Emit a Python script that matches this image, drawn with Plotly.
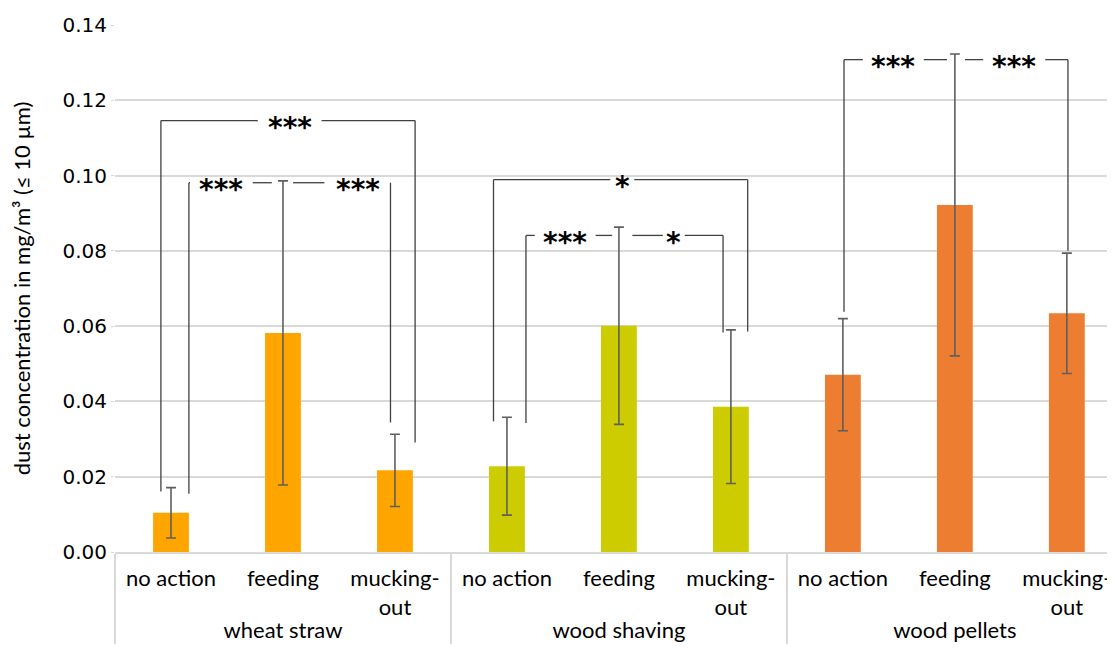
import plotly.graph_objects as go

# ---------------- data ----------------
groups = ["wheat straw", "wood shaving", "wood pellets"]
actions = ["no action", "feeding", "mucking-<br>out"]

wheat_mean = [0.0104, 0.0582, 0.0217]
wheat_err = [0.0067, 0.0404, 0.0096]
shaving_mean = [0.0228, 0.0601, 0.0386]
shaving_err = [0.0130, 0.0262, 0.0204]
pellets_mean = [0.0471, 0.0922, 0.0634]
pellets_err = [0.0149, 0.0401, 0.0160]

colors = ["#FFA500", "#CCCC00", "#ED7D31"]

y_ticks = [0.00, 0.02, 0.04, 0.06, 0.08, 0.10, 0.12, 0.14]

# significance brackets: (x_left, x_right, level, label, x_label, half_gap, left_bottom, right_bottom)
brackets = [
    (-0.09, 2.18, 0.1146, "***", 1.06, 0.285, 0.0161, 0.0291),
    (0.16, 0.90, 0.0981, "***", 0.45, 0.28, 0.0155, None),
    (1.09, 1.96, 0.0981, "***", 1.67, 0.30, None, 0.0344),
    (2.88, 5.15, 0.0989, "*", 4.03, 0.107, 0.0347, 0.0586),
    (3.17, 3.94, 0.0841, "***", 3.52, 0.272, 0.0343, None),
    (4.12, 4.93, 0.0841, "*", 4.49, 0.098, None, 0.0583),
    (6.01, 6.93, 0.1308, "***", 6.45, 0.272, 0.0638, None),
    (7.09, 8.01, 0.1308, "***", 7.53, 0.277, None, 0.0800),
]

# ---------------- figure ----------------
fig = go.Figure()
means = [wheat_mean, shaving_mean, pellets_mean]
errs = [wheat_err, shaving_err, pellets_err]
for g, m, e, c in zip(groups, means, errs, colors):
    fig.add_trace(go.Bar(
        x=[[g] * len(actions), actions],
        y=m,
        marker=dict(color=c, line=dict(width=0)),
        width=0.32,
        error_y=dict(type="data", array=e, visible=True,
                     color="#5f5f5f", thickness=1.6, width=5),
        showlegend=False,
    ))

line_style = dict(color="#404040", width=1.3)
shapes = []
annotations = []
for x0, x1, lvl, lab, xt, hg, lb, rb in brackets:
    if xt - hg > x0:
        shapes.append(dict(type="line", xref="x", yref="y", x0=x0, x1=xt - hg,
                           y0=lvl, y1=lvl, line=line_style))
    if xt + hg < x1:
        shapes.append(dict(type="line", xref="x", yref="y", x0=xt + hg, x1=x1,
                           y0=lvl, y1=lvl, line=line_style))
    if lb is not None:
        shapes.append(dict(type="line", xref="x", yref="y", x0=x0, x1=x0,
                           y0=lvl, y1=lb, line=line_style))
    if rb is not None:
        shapes.append(dict(type="line", xref="x", yref="y", x0=x1, x1=x1,
                           y0=lvl, y1=rb, line=line_style))
    annotations.append(dict(x=xt, y=lvl, xref="x", yref="y", text=lab,
                            showarrow=False, yshift=-7,
                            font=dict(family="DejaVu Sans", size=28,
                                      color="#000000", weight="bold")))

fig.update_layout(
    width=1107, height=643,
    margin=dict(l=107, r=0, t=17, b=99),
    plot_bgcolor="white", paper_bgcolor="white",
    bargap=0.2,
    shapes=shapes,
    annotations=annotations,
    font=dict(family="Lato", color="#000000"),
)
fig.update_xaxes(
    type="multicategory",
    range=[-0.5, 8.43],
    automargin=False,
    showline=True, linecolor="#d9d9d9", linewidth=1.5,
    showdividers=True, dividercolor="#d9d9d9", dividerwidth=1.5,
    tickfont=dict(family="Lato", size=22, color="#000000"),
    ticklabelstandoff=6,
    ticks="",
    showgrid=False,
)
fig.update_yaxes(
    range=[0, 0.14],
    automargin=False,
    tickvals=y_ticks,
    tickformat=".2f",
    showgrid=True, gridcolor="#d9d9d9", gridwidth=1.5,
    zeroline=False,
    ticks="outside", ticklen=3, tickcolor="#d9d9d9",
    tickfont=dict(family="DejaVu Sans", size=20, color="#000000"),
    title=dict(text="dust concentration in mg/m³ (≤ 10 µm)",
               font=dict(family="Lato", size=22, color="#000000"),
               standoff=26),
)

fig.write_html("out.html")
